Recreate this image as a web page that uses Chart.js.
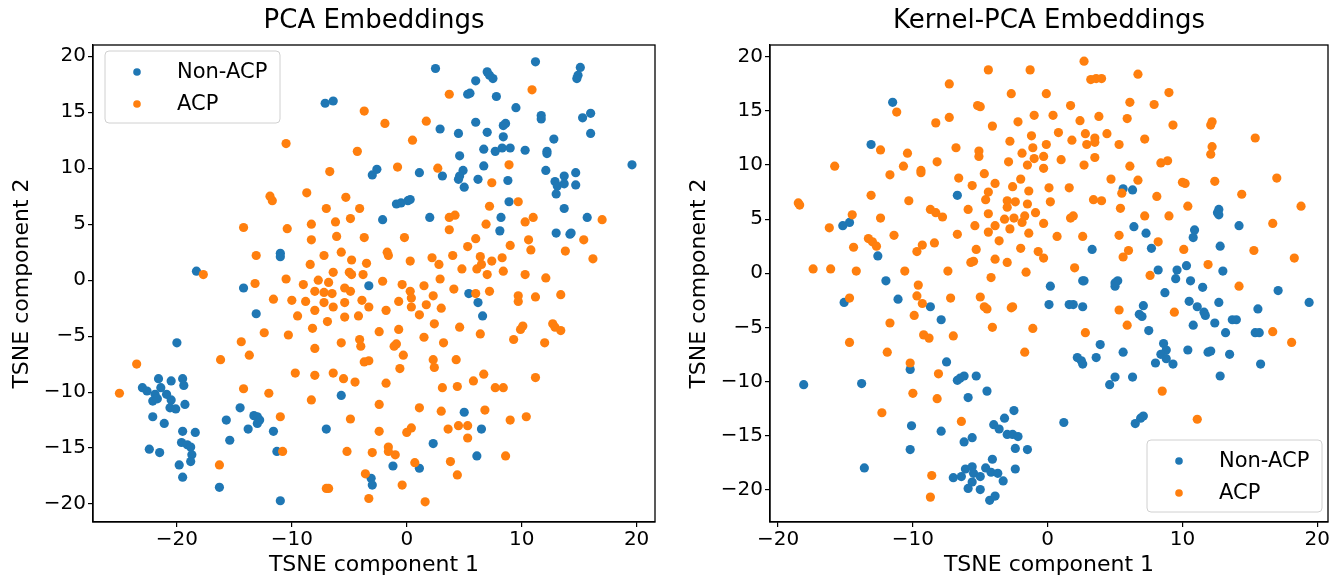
<!DOCTYPE html>
<html>
<head>
<meta charset="utf-8">
<title>PCA vs Kernel-PCA Embeddings</title>
<script src="https://cdn.jsdelivr.net/npm/chart.js@4.4.1/dist/chart.umd.min.js"></script>
<style>
  html, body { margin: 0; padding: 0; background: #fff; }
  body { width: 1334px; height: 576px; position: relative; overflow: hidden; }
  .panel { position: absolute; top: 0; width: 667px; height: 576px; }
  #panel-pca { left: 0; }
  #panel-kpca { left: 667px; }
</style>
</head>
<body>
<div class="panel" id="panel-pca"><canvas id="pca-chart" width="667" height="576"></canvas></div>
<div class="panel" id="panel-kpca"><canvas id="kpca-chart" width="667" height="576"></canvas></div>
<script>
// Class names, in legend order
const classLabels = ['Non-ACP', 'ACP'];

// PCA embeddings (TSNE 1, TSNE 2)
const pcaNonAcp = [[-7.1,15.8],[-6.4,16.0],[-3.0,9.4],[-2.6,9.9],[2.5,18.9],[11.2,19.5],[7.0,18.6],[7.2,18.3],[7.5,18.0],[6.0,17.8],[15.1,19.0],[14.9,18.3],[14.8,18.0],[5.3,16.6],[5.5,16.7],[7.8,16.4],[9.5,15.4],[11.7,14.7],[11.7,14.4],[15.3,14.5],[16.0,14.9],[16.0,13.1],[6.0,14.1],[2.9,13.5],[4.5,13.1],[7.0,13.2],[8.4,13.8],[8.6,14.0],[8.4,12.8],[12.8,12.6],[4.6,11.1],[6.7,11.7],[7.7,11.5],[8.3,11.8],[9.0,11.8],[10.3,11.6],[12.2,11.5],[12.2,11.3],[19.6,10.3],[1.1,9.6],[3.1,9.3],[4.9,9.8],[4.6,9.3],[4.5,9.0],[6.7,10.2],[6.2,9.0],[5.0,8.3],[8.8,8.9],[12.1,9.8],[14.7,9.6],[13.7,9.3],[12.9,8.8],[13.1,8.4],[13.7,8.6],[14.7,8.5],[13.0,7.7],[-0.9,6.8],[-0.5,6.9],[0.1,7.1],[0.3,7.2],[8.9,7.0],[13.7,6.4],[-2.1,5.4],[2.0,5.6],[8.2,5.6],[8.1,4.4],[15.7,5.6],[13.0,4.2],[14.2,4.1],[14.3,4.2],[5.4,-1.2],[6.2,-2.0],[6.6,-3.2],[-11.0,2.4],[-11.0,2.1],[-18.3,0.8],[-14.2,-0.7],[-13.1,-3.0],[-20.0,-5.6],[-3.3,-0.5],[-21.6,-8.8],[-20.5,-9.0],[-19.5,-8.8],[-19.4,-9.4],[-23.0,-9.6],[-21.4,-9.6],[-22.6,-9.9],[-21.9,-10.2],[-20.9,-10.2],[-22.1,-10.8],[-21.7,-10.6],[-20.5,-10.7],[-20.6,-11.4],[-20.1,-11.5],[-19.3,-11.1],[-22.1,-12.2],[-21.1,-12.8],[-19.5,-13.5],[-18.4,-13.6],[-19.6,-14.5],[-19.1,-14.7],[-18.8,-14.9],[-18.7,-15.6],[-18.8,-16.2],[-19.8,-16.5],[-19.5,-17.6],[-22.4,-15.1],[-21.5,-15.4],[-14.5,-11.4],[-15.7,-12.5],[-13.3,-12.1],[-13.0,-12.2],[-12.8,-12.5],[-13.0,-12.8],[-13.8,-13.3],[-15.4,-14.3],[-11.6,-13.5],[-11.3,-15.3],[-16.3,-18.5],[-11.0,-19.7],[-5.7,-10.3],[-7.0,-13.3],[-3.1,-17.7],[-3.0,-18.3],[5.0,-11.8],[6.5,-13.3],[2.3,-14.6],[6.1,-15.7],[-1.2,-16.6],[1.1,-16.8]];

const pcaAcp = [[-3.7,15.1],[-10.5,12.2],[-4.3,11.5],[-6.7,9.7],[-8.7,7.8],[-11.9,7.5],[-11.7,7.1],[-5.3,7.4],[-7.0,6.4],[-4.1,6.4],[3.7,16.6],[10.9,17.0],[-1.9,14.0],[1.7,14.2],[0.5,12.5],[-0.8,10.1],[2.7,10.0],[8.9,10.3],[7.4,8.7],[7.2,6.6],[9.7,7.0],[3.7,5.6],[4.2,5.8],[3.7,4.5],[6.9,5.0],[10.3,5.2],[11.0,5.6],[17.0,5.4],[15.4,3.6],[13.8,2.6],[16.2,1.9],[-0.2,3.8],[6.0,3.7],[5.3,3.0],[9.0,3.1],[10.6,3.6],[10.8,2.7],[-1.7,2.5],[-1.6,2.2],[0.3,1.7],[2.2,2.0],[2.8,1.4],[4.0,2.2],[6.4,2.1],[6.5,1.4],[6.1,1.0],[4.8,1.0],[7.4,1.7],[8.3,2.0],[8.4,0.8],[7.0,0.5],[10.3,0.5],[12.1,0.2],[-2.1,-0.1],[-0.4,-0.4],[1.5,-0.5],[2.9,0.1],[0.3,-1.0],[0.4,-1.6],[2.3,-1.4],[4.1,-0.8],[6.0,-1.2],[7.2,-1.0],[9.7,-1.4],[9.7,-1.9],[11.2,-1.5],[13.4,-1.3],[-0.7,-1.9],[-1.8,-2.7],[0.4,-2.4],[1.7,-2.2],[3.0,-2.5],[1.1,-3.1],[2.4,-3.9],[-2.4,-4.6],[-0.7,-4.4],[4.6,-4.2],[1.5,-5.1],[6.4,-4.8],[3.2,-5.6],[9.3,-5.3],[9.9,-4.4],[10.1,-4.1],[12.7,-3.9],[12.9,-4.2],[13.4,-4.5],[12.0,-5.6],[-1.1,-5.9],[-0.9,-5.7],[-0.3,-6.7],[2.3,-7.1],[4.3,-7.1],[-14.2,4.7],[-10.4,4.6],[-8.3,5.0],[-6.2,5.2],[-4.9,5.5],[-8.3,3.6],[-6.1,3.9],[-3.7,3.8],[-13.1,2.2],[-7.2,2.2],[-5.7,2.5],[-4.8,1.8],[-3.5,1.5],[-8.4,1.4],[-17.7,0.5],[-6.4,0.7],[-5.0,0.7],[-4.8,0.5],[-3.8,0.5],[-13.2,-0.3],[-10.5,0.1],[-9.0,-0.4],[-7.7,0.0],[-6.8,-0.2],[-8.0,-1.0],[-7.2,-1.1],[-6.5,-1.2],[-5.4,-0.7],[-4.9,-1.0],[-11.6,-1.7],[-10.0,-1.8],[-8.8,-1.9],[-7.2,-2.0],[-5.4,-2.0],[-3.9,-1.8],[-3.3,-2.4],[-6.4,-2.4],[-8.0,-2.7],[-9.5,-3.2],[-6.9,-3.7],[-5.4,-3.3],[-4.2,-3.2],[-8.2,-4.3],[-12.4,-4.7],[-10.3,-4.9],[-14.4,-5.5],[-5.7,-5.6],[-4.1,-5.3],[-4.0,-5.9],[-8.0,-6.1],[-13.7,-6.7],[-16.2,-7.1],[-23.5,-7.5],[-3.7,-7.3],[-3.3,-7.2],[-25.0,-10.1],[-14.2,-9.7],[-12.0,-10.1],[-9.7,-8.3],[-8.0,-8.5],[-6.4,-8.3],[-5.5,-8.8],[-4.5,-9.1],[-8.3,-10.7],[-11.0,-12.2],[-4.9,-12.4],[-10.8,-15.3],[-5.2,-15.3],[-3.0,-15.4],[-16.3,-16.5],[-7.0,-18.6],[-6.8,-18.6],[-3.6,-17.3],[-3.3,-19.5],[-0.6,-7.9],[2.4,-7.8],[-1.8,-9.2],[3.1,-9.6],[4.4,-9.5],[5.8,-9.0],[6.7,-8.4],[7.7,-9.6],[8.4,-9.6],[11.2,-8.7],[-2.4,-11.1],[1.1,-11.4],[3.0,-11.7],[6.8,-11.6],[10.4,-12.2],[9.0,-12.5],[4.5,-13.0],[5.3,-13.0],[3.6,-13.3],[5.3,-14.1],[0.4,-13.2],[0.0,-13.6],[-2.4,-13.5],[-1.6,-14.9],[-1.6,-15.3],[-1.0,-15.6],[0.7,-16.3],[3.8,-16.2],[4.4,-17.4],[8.6,-15.7],[-0.4,-18.3],[1.6,-19.8]];

// Kernel-PCA embeddings
const kpcaNonAcp = [[-11.5,15.8],[-13.1,11.9],[-6.7,7.2],[5.6,7.8],[6.3,7.7],[12.7,5.9],[-15.2,4.4],[-14.7,4.7],[-12.6,1.6],[-12.0,-0.7],[-15.1,-2.7],[-11.1,-2.4],[-8.7,-3.1],[-7.9,-4.3],[-7.5,-8.2],[0.2,-1.2],[0.1,-2.9],[6.4,4.3],[7.3,3.7],[12.6,5.6],[12.7,5.4],[14.2,4.4],[10.9,4.0],[10.8,3.3],[3.3,2.2],[7.7,2.3],[12.8,2.5],[8.2,0.3],[9.6,0.3],[9.5,-0.5],[10.3,0.7],[13.0,0.2],[10.6,-0.7],[11.5,-1.3],[2.6,-0.7],[2.7,-0.7],[5.0,-1.2],[5.2,-0.7],[5.0,-0.9],[8.7,-1.8],[17.1,-1.6],[1.6,-2.9],[1.9,-2.9],[2.6,-3.1],[7.1,-3.0],[10.5,-2.6],[11.1,-3.1],[11.6,-3.6],[11.7,-3.9],[12.7,-2.7],[15.6,-3.3],[19.4,-2.7],[6.8,-3.8],[7.0,-4.0],[7.5,-5.3],[10.8,-4.8],[12.4,-4.6],[13.2,-5.5],[13.7,-4.3],[14.0,-4.3],[15.4,-5.5],[15.7,-5.5],[3.9,-6.6],[5.6,-7.3],[3.6,-7.8],[2.2,-7.8],[2.5,-8.1],[8.6,-6.5],[8.8,-7.1],[8.4,-7.5],[8.8,-7.9],[10.4,-7.1],[11.9,-7.3],[12.1,-7.2],[13.5,-7.5],[8.0,-8.3],[9.3,-8.4],[15.8,-8.4],[2.6,-8.4],[12.8,-9.5],[5.0,-9.6],[4.6,-10.3],[6.3,-9.6],[1.2,-13.8],[6.5,-13.9],[6.9,-13.4],[7.1,-13.2],[-10.2,-8.9],[-18.1,-10.3],[-13.8,-10.2],[-6.7,-9.9],[-6.5,-9.7],[-6.2,-9.5],[-5.3,-9.5],[-5.9,-11.5],[-4.5,-10.9],[-10.1,-14.1],[-7.9,-14.6],[-2.5,-12.7],[-3.2,-13.4],[-4.0,-14.0],[-3.6,-14.4],[-3.0,-14.9],[-2.6,-14.9],[-2.2,-15.1],[-6.2,-15.6],[-5.6,-15.2],[-10.2,-16.3],[-2.4,-16.2],[-1.5,-16.3],[-13.6,-18.0],[-4.1,-17.2],[-6.1,-18.1],[-5.6,-17.9],[-5.5,-18.5],[-4.6,-18.0],[-4.2,-18.4],[-3.7,-18.5],[-2.4,-18.1],[-7.0,-18.9],[-6.4,-18.8],[-5.6,-19.3],[-5.0,-18.8],[-3.3,-19.2],[-5.9,-19.9],[-5.0,-20.0],[-4.3,-21.0],[-3.9,-20.6]];

const kpcaAcp = [[-4.4,18.8],[-1.3,18.8],[-7.3,17.5],[-2.7,16.6],[-0.1,16.6],[-11.2,14.9],[-5.2,15.5],[-5.0,15.4],[-8.3,13.9],[-7.3,14.4],[-4.1,13.6],[-2.2,14.0],[-1.0,14.6],[-1.2,12.7],[-2.8,12.2],[-1.1,11.6],[-0.1,11.9],[-12.4,11.4],[-10.4,11.1],[-6.8,11.6],[-5.1,11.3],[-5.1,10.8],[-1.9,11.1],[-1.0,10.6],[-0.3,10.8],[-2.9,10.3],[-1.5,10.0],[-0.3,9.7],[-15.8,9.9],[-10.7,9.9],[-8.2,10.3],[-11.7,9.1],[-9.4,9.5],[-9.4,9.3],[-4.7,9.2],[-6.6,8.8],[-5.6,8.1],[-3.9,8.3],[-2.0,8.7],[-2.6,8.0],[-1.4,7.6],[0.1,7.9],[-13.1,7.2],[-10.3,6.7],[-4.4,7.5],[-4.6,6.8],[-3.0,6.7],[-2.4,6.6],[-1.5,6.4],[-18.5,6.5],[-18.4,6.3],[-8.7,5.9],[-5.9,5.9],[-3.0,6.1],[2.7,19.6],[6.7,18.4],[3.2,17.9],[3.6,18.0],[4.0,18.0],[9.0,16.7],[1.7,15.5],[6.1,15.8],[7.9,15.6],[0.4,14.6],[2.4,14.1],[3.8,14.5],[5.9,14.3],[9.3,13.7],[12.2,14.0],[12.1,13.7],[15.4,12.5],[0.8,13.0],[2.8,12.9],[4.4,12.9],[1.8,12.3],[2.9,11.9],[3.5,12.5],[3.5,12.1],[5.3,11.9],[7.2,12.4],[12.2,11.7],[12.1,11.0],[1.0,10.5],[3.5,10.7],[2.7,10.0],[6.1,9.9],[8.4,10.2],[8.9,10.4],[4.7,8.7],[6.7,8.6],[10.0,8.4],[10.2,8.3],[12.4,8.5],[17.0,8.8],[1.6,7.9],[5.5,7.4],[3.4,6.8],[4.0,6.7],[8.1,7.1],[14.4,7.3],[0.2,6.6],[5.4,6.0],[10.4,6.2],[18.8,6.2],[-14.5,5.4],[-12.4,5.1],[-8.3,5.6],[-7.8,5.2],[-4.4,5.5],[-3.2,5.0],[-2.5,5.1],[-1.7,5.3],[-1.9,4.7],[-0.9,5.6],[-0.3,4.6],[-5.4,4.4],[-3.9,4.4],[-2.8,4.1],[-4.4,3.8],[-1.4,3.7],[-6.7,3.6],[-16.2,4.2],[-13.3,3.2],[-13.0,2.9],[-12.7,2.5],[-11.4,3.5],[-14.4,2.4],[-9.7,2.0],[-9.3,2.6],[-8.4,2.8],[-3.6,3.0],[-5.3,2.2],[-2.0,2.3],[-0.7,2.0],[-0.3,1.4],[-3.9,1.3],[-3.0,1.0],[-5.7,1.0],[-5.5,1.1],[-17.4,0.4],[-16.1,0.4],[-14.2,0.2],[-10.6,0.2],[-7.4,0.2],[-1.6,0.1],[-4.2,-0.4],[-9.6,-1.1],[-9.7,-2.1],[-9.3,-2.8],[-14.7,-2.3],[-7.2,-2.3],[-5.0,-2.2],[-4.7,-3.1],[-4.5,-3.3],[-2.7,-3.2],[-2.6,-3.1],[-9.9,-3.9],[-11.7,-4.6],[-4.1,-5.0],[-1.1,-5.1],[-9.2,-5.7],[-8.8,-6.0],[-7.0,-5.8],[-14.7,-6.4],[-11.9,-7.3],[-1.7,-7.3],[-10.2,-8.3],[7.2,5.3],[9.0,5.3],[1.7,5.1],[1.9,5.3],[16.7,4.6],[0.7,3.4],[2.6,3.4],[5.3,3.5],[8.2,2.9],[6.0,2.1],[5.6,1.5],[10.1,2.2],[15.3,2.1],[18.3,1.4],[2.0,0.5],[11.9,0.8],[7.6,-0.2],[14.2,-1.2],[5.3,-3.4],[9.4,-3.6],[5.9,-4.8],[2.8,-5.5],[16.7,-5.4],[18.1,-6.4],[-8.1,-9.3],[-10.0,-11.1],[-8.2,-11.6],[-12.3,-12.9],[-6.4,-13.7],[-8.6,-18.7],[-8.7,-20.7],[8.5,-10.9],[11.1,-13.5]];

// Tick labels
const pcaXTicks = [-20, -10, 0, 10, 20];
const pcaYTicks = [-20, -15, -10, -5, 0, 5, 10, 15, 20];
const kpcaXTicks = [-20, -10, 0, 10, 20];
const kpcaYTicks = [-20, -15, -10, -5, 0, 5, 10, 15, 20];

const FONT = "'DejaVu Sans', 'Liberation Sans', sans-serif";
const COLORS = ['#1f77b4', '#ff7f0e'];

// Full box around the plot area plus a matplotlib-style legend
const frameAndLegend = {
  id: 'frameAndLegend',
  afterDraw(chart, args, opts) {
    const { ctx, chartArea: a } = chart;
    ctx.save();
    ctx.strokeStyle = '#000';
    ctx.lineWidth = 1.3;
    ctx.strokeRect(a.left, a.top, a.right - a.left, a.bottom - a.top);

    const b = opts.box;
    ctx.beginPath();
    if (ctx.roundRect) ctx.roundRect(b.x, b.y, b.w, b.h, 4);
    else ctx.rect(b.x, b.y, b.w, b.h);
    ctx.fillStyle = 'rgba(255,255,255,0.8)';
    ctx.fill();
    ctx.strokeStyle = '#d0d0d0';
    ctx.lineWidth = 1;
    ctx.stroke();

    ctx.font = `21px ${FONT}`;
    ctx.textBaseline = 'middle';
    ctx.textAlign = 'left';
    chart.data.datasets.forEach((ds, i) => {
      const y = b.y + 21 + i * 32;
      ctx.beginPath();
      ctx.arc(b.x + 32, y, 3.8, 0, Math.PI * 2);
      ctx.fillStyle = ds.backgroundColor;
      ctx.fill();
      ctx.fillStyle = '#000';
      ctx.fillText(ds.label, b.x + 72, y + 1);
    });
    ctx.restore();
  }
};

function toPoints(pairs) {
  return pairs.map(([x, y]) => ({ x, y }));
}

// matplotlib prints negatives with a real minus sign
const minusLabel = v => (v < 0 ? '\u2212' + Math.abs(v) : String(v));

function buildChart(canvasId, cfg) {
  const ctx = document.getElementById(canvasId);
  const tickFont = { family: FONT, size: 20, lineHeight: 1 };
  const labelFont = { family: FONT, size: 22, lineHeight: 1 };

  return new Chart(ctx, {
    type: 'scatter',
    data: {
      datasets: [cfg.nonAcp, cfg.acp].map((pairs, i) => ({
        label: classLabels[i],
        data: toPoints(pairs),
        backgroundColor: COLORS[i],
        borderWidth: 0,
        pointRadius: 4.6,
        pointHoverRadius: 4.6,
        order: 2 - i // ACP drawn on top
      }))
    },
    plugins: [frameAndLegend],
    options: {
      responsive: false,
      animation: false,
      devicePixelRatio: 1,
      layout: { padding: { left: 0, right: cfg.padRight, top: 0, bottom: 0 } },
      plugins: {
        legend: { display: false },
        tooltip: { enabled: false },
        title: {
          display: true,
          text: cfg.title,
          fullSize: false,
          color: '#000',
          font: { family: FONT, size: 26, weight: 'normal', lineHeight: 1.2 },
          padding: { top: 6, bottom: 7.8 }
        },
        frameAndLegend: { box: cfg.legendBox }
      },
      scales: {
        x: {
          type: 'linear',
          min: cfg.xRange[0],
          max: cfg.xRange[1],
          afterBuildTicks: s => { s.ticks = cfg.xTicks.map(v => ({ value: v })); },
          afterFit: s => { s.height = 54; },
          ticks: { font: tickFont, color: '#000', padding: 3, maxRotation: 0, callback: minusLabel },
          grid: { display: true, drawOnChartArea: false, drawTicks: true, tickLength: 5, color: '#000', lineWidth: 1.2 },
          border: { display: true, color: '#000', width: 1.3 },
          title: { display: true, text: 'TSNE component 1', color: '#000', font: labelFont, padding: { top: 0, bottom: 0 } }
        },
        y: {
          type: 'linear',
          min: cfg.yRange[0],
          max: cfg.yRange[1],
          afterBuildTicks: s => { s.ticks = cfg.yTicks.map(v => ({ value: v })); },
          afterFit: s => { s.width = cfg.yAxisWidth; },
          ticks: { font: tickFont, color: '#000', padding: 2, callback: minusLabel },
          grid: { display: true, drawOnChartArea: false, drawTicks: true, tickLength: 5, color: '#000', lineWidth: 1.2 },
          border: { display: true, color: '#000', width: 1.3 },
          title: { display: true, text: 'TSNE component 2', color: '#000', font: labelFont, padding: { top: cfg.yTitlePad, bottom: 0 } }
        }
      }
    }
  });
}

document.addEventListener('DOMContentLoaded', () => {
  buildChart('pca-chart', {
    title: 'PCA Embeddings',
    nonAcp: pcaNonAcp,
    acp: pcaAcp,
    xTicks: pcaXTicks,
    yTicks: pcaYTicks,
    xRange: [-27.3, 21.6],
    yRange: [-21.6, 21.0],
    yAxisWidth: 93,
    yTitlePad: 11,
    padRight: 12,
    legendBox: { x: 105, y: 51, w: 175, h: 72 }
  });

  buildChart('kpca-chart', {
    title: 'Kernel-PCA Embeddings',
    nonAcp: kpcaNonAcp,
    acp: kpcaAcp,
    xTicks: kpcaXTicks,
    yTicks: kpcaYTicks,
    xRange: [-20.6, 20.8],
    yRange: [-23.0, 21.1],
    yAxisWidth: 103,
    yTitlePad: 21,
    padRight: 6,
    legendBox: { x: 480, y: 440, w: 175, h: 72 }
  });
});
</script>
</body>
</html>
